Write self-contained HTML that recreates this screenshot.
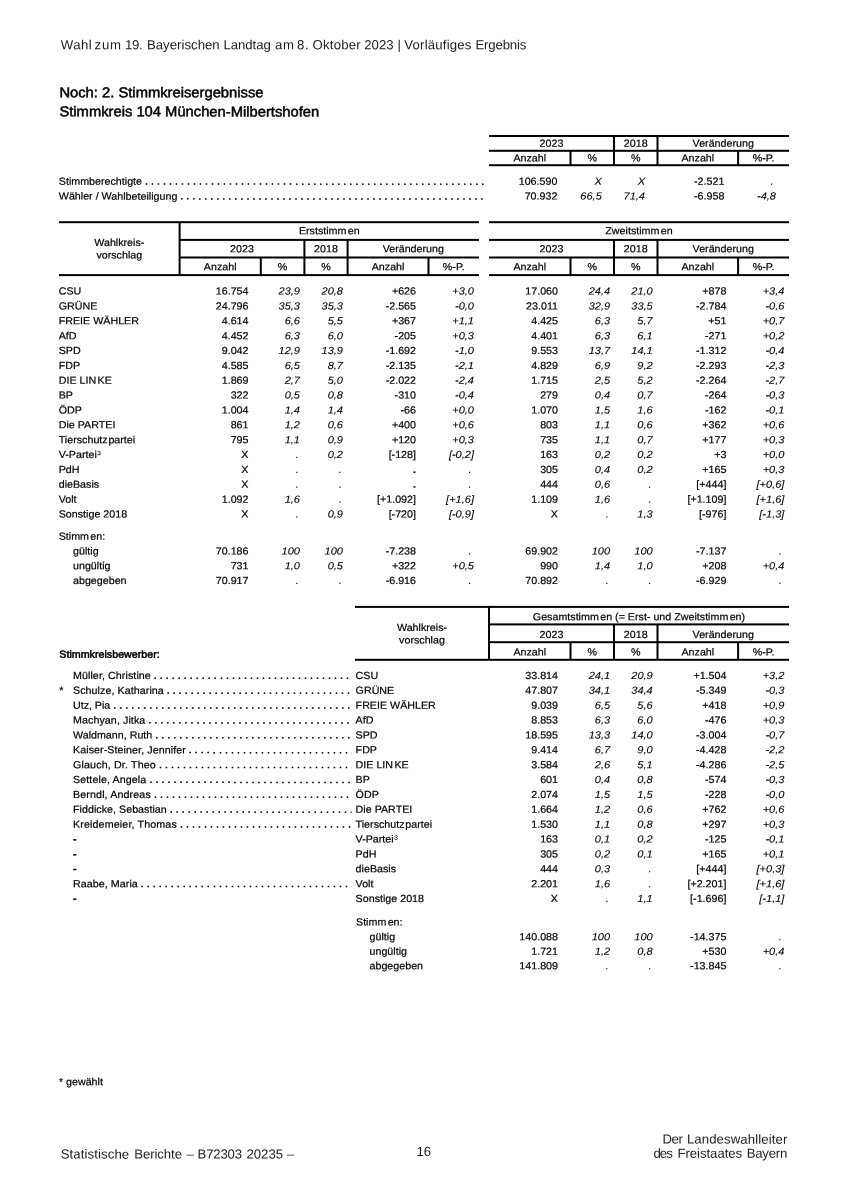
<!DOCTYPE html>
<html lang="de"><head><meta charset="utf-8">
<title>Wahl zum 19. Bayerischen Landtag – Stimmkreis 104 München-Milbertshofen</title>
<style>
html,body{margin:0;padding:0;background:#fff;}
body{width:848px;height:1200px;position:relative;overflow:hidden;}
svg{position:absolute;left:0;top:0;font-family:"Liberation Sans",sans-serif;font-size:10.3px;
 text-rendering:geometricPrecision;fill:#000;}
text{stroke:#000;stroke-width:0.2px;}
.i{font-style:italic;stroke-width:0.1px;}
.b{font-weight:bold;}
.u{fill:#1c1c1c;stroke:none;}
.d{stroke-width:0.5px;letter-spacing:0.028px;}
.h{stroke:#000;stroke-width:0.5px;}
.hb{stroke:#000;stroke-width:0.5px;}
</style></head>
<body>
<svg width="848" height="1200" viewBox="0 0 848 1200">
<defs><clipPath id="c485"><rect x="0" y="0" width="485.00" height="1200"/></clipPath><clipPath id="c352"><rect x="0" y="0" width="351.50" height="1200"/></clipPath></defs>
<g>
<rect x="489.00" y="135.00" width="300.00" height="2.0"/>
<rect x="489.00" y="149.80" width="300.00" height="2.0"/>
<rect x="489.00" y="164.20" width="300.00" height="2.0"/>
<rect x="613.00" y="136.00" width="2.0" height="14.80"/>
<rect x="656.50" y="136.00" width="2.0" height="14.80"/>
<rect x="569.50" y="150.80" width="2.0" height="14.40"/>
<rect x="613.00" y="150.80" width="2.0" height="14.40"/>
<rect x="656.50" y="150.80" width="2.0" height="14.40"/>
<rect x="737.10" y="150.80" width="2.0" height="14.40"/>
<rect x="59.00" y="221.20" width="420.00" height="2.0"/>
<rect x="59.00" y="274.10" width="120.60" height="2.0"/>
<rect x="178.60" y="222.20" width="2.0" height="52.90"/>
<rect x="489.00" y="221.20" width="300.00" height="2.0"/>
<rect x="179.60" y="256.50" width="299.40" height="2.0"/>
<rect x="179.60" y="274.10" width="299.40" height="2.0"/>
<rect x="303.40" y="239.90" width="2.0" height="17.60"/>
<rect x="346.60" y="239.90" width="2.0" height="17.60"/>
<rect x="259.80" y="257.50" width="2.0" height="17.60"/>
<rect x="303.40" y="257.50" width="2.0" height="17.60"/>
<rect x="346.60" y="257.50" width="2.0" height="17.60"/>
<rect x="427.50" y="257.50" width="2.0" height="17.60"/>
<rect x="179.60" y="238.90" width="299.40" height="2.0"/>
<rect x="489.00" y="256.50" width="300.00" height="2.0"/>
<rect x="489.00" y="274.10" width="300.00" height="2.0"/>
<rect x="613.00" y="239.90" width="2.0" height="17.60"/>
<rect x="656.50" y="239.90" width="2.0" height="17.60"/>
<rect x="569.50" y="257.50" width="2.0" height="17.60"/>
<rect x="613.00" y="257.50" width="2.0" height="17.60"/>
<rect x="656.50" y="257.50" width="2.0" height="17.60"/>
<rect x="737.10" y="257.50" width="2.0" height="17.60"/>
<rect x="489.00" y="238.90" width="300.00" height="2.0"/>
<rect x="355.00" y="605.90" width="434.00" height="2.0"/>
<rect x="355.00" y="658.80" width="134.00" height="2.0"/>
<rect x="488.00" y="606.90" width="2.0" height="52.90"/>
<rect x="489.00" y="623.40" width="300.00" height="2.0"/>
<rect x="489.00" y="641.20" width="300.00" height="2.0"/>
<rect x="489.00" y="658.80" width="300.00" height="2.0"/>
<rect x="613.00" y="624.40" width="2.0" height="17.80"/>
<rect x="656.50" y="624.40" width="2.0" height="17.80"/>
<rect x="569.50" y="642.20" width="2.0" height="17.60"/>
<rect x="613.00" y="642.20" width="2.0" height="17.60"/>
<rect x="656.50" y="642.20" width="2.0" height="17.60"/>
<rect x="737.10" y="642.20" width="2.0" height="17.60"/>
</g>
<g>
<text transform="translate(60.70 49.30) rotate(0.03) scale(1 1)" class="u" font-size="13.2" textLength="31.0" lengthAdjust="spacing">Wahl</text>
<text transform="translate(94.60 49.30) rotate(0.03) scale(1 1)" class="u" font-size="13.2" textLength="26.4" lengthAdjust="spacing">zum</text>
<text transform="translate(125.10 49.30) rotate(0.03) scale(1 1)" class="u" font-size="13.2" textLength="17.5" lengthAdjust="spacing">19.</text>
<text transform="translate(146.90 49.30) rotate(0.03) scale(1 1)" class="u" font-size="13.2" textLength="72.8" lengthAdjust="spacing">Bayerischen</text>
<text transform="translate(223.40 49.30) rotate(0.03) scale(1 1)" class="u" font-size="13.2" textLength="47.5" lengthAdjust="spacing">Landtag</text>
<text transform="translate(275.00 49.30) rotate(0.03) scale(1 1)" class="u" font-size="13.2" textLength="19.0" lengthAdjust="spacing">am</text>
<text transform="translate(297.10 49.30) rotate(0.03) scale(1 1)" class="u" font-size="13.2" textLength="11.5" lengthAdjust="spacing">8.</text>
<text transform="translate(312.60 49.30) rotate(0.03) scale(1 1)" class="u" font-size="13.2" textLength="48.0" lengthAdjust="spacing">Oktober</text>
<text transform="translate(364.30 49.30) rotate(0.03) scale(1 1)" class="u" font-size="13.2" textLength="29.3" lengthAdjust="spacing">2023</text>
<text transform="translate(399.20 49.30) rotate(0.03) scale(1 1)" text-anchor="middle" class="u" font-size="13.2">|</text>
<text transform="translate(404.30 49.30) rotate(0.03) scale(1 1)" class="u" font-size="13.2" textLength="67.1" lengthAdjust="spacing">Vorläufiges</text>
<text transform="translate(475.50 49.30) rotate(0.03) scale(1 1)" class="u" font-size="13.2" textLength="50.9" lengthAdjust="spacing">Ergebnis</text>
<text transform="translate(59.40 97.20) rotate(0.03) scale(1.036 1)" class="h" font-size="14.245">Noch: 2. Stimmkreisergebnisse</text>
<text transform="translate(59.40 116.30) rotate(0.03) scale(1.036 1)" class="h" font-size="14.245">Stimmkreis 104 München-Milbertshofen</text>
<text transform="translate(551.50 146.80) rotate(0.03) scale(1.039 1)" text-anchor="middle">2023</text>
<text transform="translate(635.75 146.80) rotate(0.03) scale(1.039 1)" text-anchor="middle">2018</text>
<text transform="translate(723.25 146.80) rotate(0.03) scale(1.039 1)" text-anchor="middle">Veränderung</text>
<text transform="translate(529.75 161.60) rotate(0.03) scale(1.039 1)" text-anchor="middle">Anzahl</text>
<text transform="translate(592.25 161.60) rotate(0.03) scale(1.039 1)" text-anchor="middle">%</text>
<text transform="translate(635.75 161.60) rotate(0.03) scale(1.039 1)" text-anchor="middle">%</text>
<text transform="translate(697.80 161.60) rotate(0.03) scale(1.039 1)" text-anchor="middle">Anzahl</text>
<text transform="translate(763.55 161.60) rotate(0.03) scale(1.039 1)" text-anchor="middle">%-P.</text>
<g clip-path="url(#c485)"><text transform="translate(58.80 184.80) rotate(0.03) scale(1.039 1)" xml:space="preserve">Stimmberechtigte<tspan class="d" dy="-0.3"> . . . . . . . . . . . . . . . . . . . . . . . . . . . . . . . . . . . . . . . . . . . . . . . . . . . . . . . . . . . . . . . . . . . . . . . . . . . . . . . .</tspan></text></g>
<g clip-path="url(#c485)"><text transform="translate(58.80 199.60) rotate(0.03) scale(1.039 1)" xml:space="preserve">Wähler / Wahlbeteiligung<tspan class="d" dy="-0.3"> . . . . . . . . . . . . . . . . . . . . . . . . . . . . . . . . . . . . . . . . . . . . . . . . . . . . . . . . . . . . . . . . . . . . . . . . . . . . . . . .</tspan></text></g>
<text transform="translate(557.40 184.80) rotate(0.03) scale(1.039 1)" text-anchor="end">106.590</text>
<text transform="translate(601.80 184.80) rotate(0.03) scale(1.07 1)" text-anchor="end" class="i">X</text>
<text transform="translate(645.00 184.80) rotate(0.03) scale(1.07 1)" text-anchor="end" class="i">X</text>
<text transform="translate(724.40 184.80) rotate(0.03) scale(1.039 1)" text-anchor="end">-2.521</text>
<text transform="translate(773.50 184.80) rotate(0.03) scale(1.07 1)" text-anchor="end" class="i">.</text>
<text transform="translate(557.40 199.60) rotate(0.03) scale(1.039 1)" text-anchor="end">70.932</text>
<text transform="translate(601.80 199.60) rotate(0.03) scale(1.07 1)" text-anchor="end" class="i">66,5</text>
<text transform="translate(645.00 199.60) rotate(0.03) scale(1.07 1)" text-anchor="end" class="i">71,4</text>
<text transform="translate(724.40 199.60) rotate(0.03) scale(1.039 1)" text-anchor="end">-6.958</text>
<text transform="translate(776.00 199.60) rotate(0.03) scale(1.07 1)" text-anchor="end" class="i">-4,8</text>
<text transform="translate(242.00 252.30) rotate(0.03) scale(1.039 1)" text-anchor="middle">2023</text>
<text transform="translate(326.00 252.30) rotate(0.03) scale(1.039 1)" text-anchor="middle">2018</text>
<text transform="translate(413.30 252.30) rotate(0.03) scale(1.039 1)" text-anchor="middle">Veränderung</text>
<text transform="translate(220.20 270.30) rotate(0.03) scale(1.039 1)" text-anchor="middle">Anzahl</text>
<text transform="translate(282.60 270.30) rotate(0.03) scale(1.039 1)" text-anchor="middle">%</text>
<text transform="translate(326.00 270.30) rotate(0.03) scale(1.039 1)" text-anchor="middle">%</text>
<text transform="translate(388.05 270.30) rotate(0.03) scale(1.039 1)" text-anchor="middle">Anzahl</text>
<text transform="translate(453.75 270.30) rotate(0.03) scale(1.039 1)" text-anchor="middle">%-P.</text>
<text transform="translate(551.50 252.30) rotate(0.03) scale(1.039 1)" text-anchor="middle">2023</text>
<text transform="translate(635.75 252.30) rotate(0.03) scale(1.039 1)" text-anchor="middle">2018</text>
<text transform="translate(723.25 252.30) rotate(0.03) scale(1.039 1)" text-anchor="middle">Veränderung</text>
<text transform="translate(529.75 270.30) rotate(0.03) scale(1.039 1)" text-anchor="middle">Anzahl</text>
<text transform="translate(592.25 270.30) rotate(0.03) scale(1.039 1)" text-anchor="middle">%</text>
<text transform="translate(635.75 270.30) rotate(0.03) scale(1.039 1)" text-anchor="middle">%</text>
<text transform="translate(697.80 270.30) rotate(0.03) scale(1.039 1)" text-anchor="middle">Anzahl</text>
<text transform="translate(763.55 270.30) rotate(0.03) scale(1.039 1)" text-anchor="middle">%-P.</text>
<text transform="translate(329.30 234.30) rotate(0.03) scale(1.039 1)" text-anchor="middle">Erststimm<tspan dx="1.3">en</tspan></text>
<text transform="translate(639.00 234.30) rotate(0.03) scale(1.039 1)" text-anchor="middle">Zweitstimm<tspan dx="1.3">en</tspan></text>
<text transform="translate(119.30 246.00) rotate(0.03) scale(1.039 1)" text-anchor="middle">Wahlkreis-</text>
<text transform="translate(119.30 258.60) rotate(0.03) scale(1.039 1)" text-anchor="middle">vorschlag</text>
<text transform="translate(58.70 294.60) rotate(0.03) scale(1.039 1)">CSU</text>
<text transform="translate(248.50 294.60) rotate(0.03) scale(1.039 1)" text-anchor="end">16.754</text>
<text transform="translate(300.00 294.60) rotate(0.03) scale(1.07 1)" text-anchor="end" class="i">23,9</text>
<text transform="translate(343.00 294.60) rotate(0.03) scale(1.07 1)" text-anchor="end" class="i">20,8</text>
<text transform="translate(416.00 294.60) rotate(0.03) scale(1.039 1)" text-anchor="end">+626</text>
<text transform="translate(474.00 294.60) rotate(0.03) scale(1.07 1)" text-anchor="end" class="i">+3,0</text>
<text transform="translate(558.00 294.60) rotate(0.03) scale(1.039 1)" text-anchor="end">17.060</text>
<text transform="translate(610.10 294.60) rotate(0.03) scale(1.07 1)" text-anchor="end" class="i">24,4</text>
<text transform="translate(652.70 294.60) rotate(0.03) scale(1.07 1)" text-anchor="end" class="i">21,0</text>
<text transform="translate(726.40 294.60) rotate(0.03) scale(1.039 1)" text-anchor="end">+878</text>
<text transform="translate(784.40 294.60) rotate(0.03) scale(1.07 1)" text-anchor="end" class="i">+3,4</text>
<text transform="translate(58.70 309.46) rotate(0.03) scale(1.039 1)">GRÜNE</text>
<text transform="translate(248.50 309.46) rotate(0.03) scale(1.039 1)" text-anchor="end">24.796</text>
<text transform="translate(300.00 309.46) rotate(0.03) scale(1.07 1)" text-anchor="end" class="i">35,3</text>
<text transform="translate(343.00 309.46) rotate(0.03) scale(1.07 1)" text-anchor="end" class="i">35,3</text>
<text transform="translate(416.00 309.46) rotate(0.03) scale(1.039 1)" text-anchor="end">-2.565</text>
<text transform="translate(474.00 309.46) rotate(0.03) scale(1.07 1)" text-anchor="end" class="i">-0,0</text>
<text transform="translate(558.00 309.46) rotate(0.03) scale(1.039 1)" text-anchor="end">23.011</text>
<text transform="translate(610.10 309.46) rotate(0.03) scale(1.07 1)" text-anchor="end" class="i">32,9</text>
<text transform="translate(652.70 309.46) rotate(0.03) scale(1.07 1)" text-anchor="end" class="i">33,5</text>
<text transform="translate(726.40 309.46) rotate(0.03) scale(1.039 1)" text-anchor="end">-2.784</text>
<text transform="translate(784.40 309.46) rotate(0.03) scale(1.07 1)" text-anchor="end" class="i">-0,6</text>
<text transform="translate(58.70 324.32) rotate(0.03) scale(1.039 1)">FREIE WÄHLER</text>
<text transform="translate(248.50 324.32) rotate(0.03) scale(1.039 1)" text-anchor="end">4.614</text>
<text transform="translate(300.00 324.32) rotate(0.03) scale(1.07 1)" text-anchor="end" class="i">6,6</text>
<text transform="translate(343.00 324.32) rotate(0.03) scale(1.07 1)" text-anchor="end" class="i">5,5</text>
<text transform="translate(416.00 324.32) rotate(0.03) scale(1.039 1)" text-anchor="end">+367</text>
<text transform="translate(474.00 324.32) rotate(0.03) scale(1.07 1)" text-anchor="end" class="i">+1,1</text>
<text transform="translate(558.00 324.32) rotate(0.03) scale(1.039 1)" text-anchor="end">4.425</text>
<text transform="translate(610.10 324.32) rotate(0.03) scale(1.07 1)" text-anchor="end" class="i">6,3</text>
<text transform="translate(652.70 324.32) rotate(0.03) scale(1.07 1)" text-anchor="end" class="i">5,7</text>
<text transform="translate(726.40 324.32) rotate(0.03) scale(1.039 1)" text-anchor="end">+51</text>
<text transform="translate(784.40 324.32) rotate(0.03) scale(1.07 1)" text-anchor="end" class="i">+0,7</text>
<text transform="translate(58.70 339.18) rotate(0.03) scale(1.039 1)">AfD</text>
<text transform="translate(248.50 339.18) rotate(0.03) scale(1.039 1)" text-anchor="end">4.452</text>
<text transform="translate(300.00 339.18) rotate(0.03) scale(1.07 1)" text-anchor="end" class="i">6,3</text>
<text transform="translate(343.00 339.18) rotate(0.03) scale(1.07 1)" text-anchor="end" class="i">6,0</text>
<text transform="translate(416.00 339.18) rotate(0.03) scale(1.039 1)" text-anchor="end">-205</text>
<text transform="translate(474.00 339.18) rotate(0.03) scale(1.07 1)" text-anchor="end" class="i">+0,3</text>
<text transform="translate(558.00 339.18) rotate(0.03) scale(1.039 1)" text-anchor="end">4.401</text>
<text transform="translate(610.10 339.18) rotate(0.03) scale(1.07 1)" text-anchor="end" class="i">6,3</text>
<text transform="translate(652.70 339.18) rotate(0.03) scale(1.07 1)" text-anchor="end" class="i">6,1</text>
<text transform="translate(726.40 339.18) rotate(0.03) scale(1.039 1)" text-anchor="end">-271</text>
<text transform="translate(784.40 339.18) rotate(0.03) scale(1.07 1)" text-anchor="end" class="i">+0,2</text>
<text transform="translate(58.70 354.04) rotate(0.03) scale(1.039 1)">SPD</text>
<text transform="translate(248.50 354.04) rotate(0.03) scale(1.039 1)" text-anchor="end">9.042</text>
<text transform="translate(300.00 354.04) rotate(0.03) scale(1.07 1)" text-anchor="end" class="i">12,9</text>
<text transform="translate(343.00 354.04) rotate(0.03) scale(1.07 1)" text-anchor="end" class="i">13,9</text>
<text transform="translate(416.00 354.04) rotate(0.03) scale(1.039 1)" text-anchor="end">-1.692</text>
<text transform="translate(474.00 354.04) rotate(0.03) scale(1.07 1)" text-anchor="end" class="i">-1,0</text>
<text transform="translate(558.00 354.04) rotate(0.03) scale(1.039 1)" text-anchor="end">9.553</text>
<text transform="translate(610.10 354.04) rotate(0.03) scale(1.07 1)" text-anchor="end" class="i">13,7</text>
<text transform="translate(652.70 354.04) rotate(0.03) scale(1.07 1)" text-anchor="end" class="i">14,1</text>
<text transform="translate(726.40 354.04) rotate(0.03) scale(1.039 1)" text-anchor="end">-1.312</text>
<text transform="translate(784.40 354.04) rotate(0.03) scale(1.07 1)" text-anchor="end" class="i">-0,4</text>
<text transform="translate(58.70 368.90) rotate(0.03) scale(1.039 1)">FDP</text>
<text transform="translate(248.50 368.90) rotate(0.03) scale(1.039 1)" text-anchor="end">4.585</text>
<text transform="translate(300.00 368.90) rotate(0.03) scale(1.07 1)" text-anchor="end" class="i">6,5</text>
<text transform="translate(343.00 368.90) rotate(0.03) scale(1.07 1)" text-anchor="end" class="i">8,7</text>
<text transform="translate(416.00 368.90) rotate(0.03) scale(1.039 1)" text-anchor="end">-2.135</text>
<text transform="translate(474.00 368.90) rotate(0.03) scale(1.07 1)" text-anchor="end" class="i">-2,1</text>
<text transform="translate(558.00 368.90) rotate(0.03) scale(1.039 1)" text-anchor="end">4.829</text>
<text transform="translate(610.10 368.90) rotate(0.03) scale(1.07 1)" text-anchor="end" class="i">6,9</text>
<text transform="translate(652.70 368.90) rotate(0.03) scale(1.07 1)" text-anchor="end" class="i">9,2</text>
<text transform="translate(726.40 368.90) rotate(0.03) scale(1.039 1)" text-anchor="end">-2.293</text>
<text transform="translate(784.40 368.90) rotate(0.03) scale(1.07 1)" text-anchor="end" class="i">-2,3</text>
<text transform="translate(58.70 383.76) rotate(0.03) scale(1.039 1)">DIE LIN<tspan dx="1.3">KE</tspan></text>
<text transform="translate(248.50 383.76) rotate(0.03) scale(1.039 1)" text-anchor="end">1.869</text>
<text transform="translate(300.00 383.76) rotate(0.03) scale(1.07 1)" text-anchor="end" class="i">2,7</text>
<text transform="translate(343.00 383.76) rotate(0.03) scale(1.07 1)" text-anchor="end" class="i">5,0</text>
<text transform="translate(416.00 383.76) rotate(0.03) scale(1.039 1)" text-anchor="end">-2.022</text>
<text transform="translate(474.00 383.76) rotate(0.03) scale(1.07 1)" text-anchor="end" class="i">-2,4</text>
<text transform="translate(558.00 383.76) rotate(0.03) scale(1.039 1)" text-anchor="end">1.715</text>
<text transform="translate(610.10 383.76) rotate(0.03) scale(1.07 1)" text-anchor="end" class="i">2,5</text>
<text transform="translate(652.70 383.76) rotate(0.03) scale(1.07 1)" text-anchor="end" class="i">5,2</text>
<text transform="translate(726.40 383.76) rotate(0.03) scale(1.039 1)" text-anchor="end">-2.264</text>
<text transform="translate(784.40 383.76) rotate(0.03) scale(1.07 1)" text-anchor="end" class="i">-2,7</text>
<text transform="translate(58.70 398.62) rotate(0.03) scale(1.039 1)">BP</text>
<text transform="translate(248.50 398.62) rotate(0.03) scale(1.039 1)" text-anchor="end">322</text>
<text transform="translate(300.00 398.62) rotate(0.03) scale(1.07 1)" text-anchor="end" class="i">0,5</text>
<text transform="translate(343.00 398.62) rotate(0.03) scale(1.07 1)" text-anchor="end" class="i">0,8</text>
<text transform="translate(416.00 398.62) rotate(0.03) scale(1.039 1)" text-anchor="end">-310</text>
<text transform="translate(474.00 398.62) rotate(0.03) scale(1.07 1)" text-anchor="end" class="i">-0,4</text>
<text transform="translate(558.00 398.62) rotate(0.03) scale(1.039 1)" text-anchor="end">279</text>
<text transform="translate(610.10 398.62) rotate(0.03) scale(1.07 1)" text-anchor="end" class="i">0,4</text>
<text transform="translate(652.70 398.62) rotate(0.03) scale(1.07 1)" text-anchor="end" class="i">0,7</text>
<text transform="translate(726.40 398.62) rotate(0.03) scale(1.039 1)" text-anchor="end">-264</text>
<text transform="translate(784.40 398.62) rotate(0.03) scale(1.07 1)" text-anchor="end" class="i">-0,3</text>
<text transform="translate(58.70 413.48) rotate(0.03) scale(1.039 1)">ÖDP</text>
<text transform="translate(248.50 413.48) rotate(0.03) scale(1.039 1)" text-anchor="end">1.004</text>
<text transform="translate(300.00 413.48) rotate(0.03) scale(1.07 1)" text-anchor="end" class="i">1,4</text>
<text transform="translate(343.00 413.48) rotate(0.03) scale(1.07 1)" text-anchor="end" class="i">1,4</text>
<text transform="translate(416.00 413.48) rotate(0.03) scale(1.039 1)" text-anchor="end">-66</text>
<text transform="translate(474.00 413.48) rotate(0.03) scale(1.07 1)" text-anchor="end" class="i">+0,0</text>
<text transform="translate(558.00 413.48) rotate(0.03) scale(1.039 1)" text-anchor="end">1.070</text>
<text transform="translate(610.10 413.48) rotate(0.03) scale(1.07 1)" text-anchor="end" class="i">1,5</text>
<text transform="translate(652.70 413.48) rotate(0.03) scale(1.07 1)" text-anchor="end" class="i">1,6</text>
<text transform="translate(726.40 413.48) rotate(0.03) scale(1.039 1)" text-anchor="end">-162</text>
<text transform="translate(784.40 413.48) rotate(0.03) scale(1.07 1)" text-anchor="end" class="i">-0,1</text>
<text transform="translate(58.70 428.34) rotate(0.03) scale(1.039 1)">Die PARTEI</text>
<text transform="translate(248.50 428.34) rotate(0.03) scale(1.039 1)" text-anchor="end">861</text>
<text transform="translate(300.00 428.34) rotate(0.03) scale(1.07 1)" text-anchor="end" class="i">1,2</text>
<text transform="translate(343.00 428.34) rotate(0.03) scale(1.07 1)" text-anchor="end" class="i">0,6</text>
<text transform="translate(416.00 428.34) rotate(0.03) scale(1.039 1)" text-anchor="end">+400</text>
<text transform="translate(474.00 428.34) rotate(0.03) scale(1.07 1)" text-anchor="end" class="i">+0,6</text>
<text transform="translate(558.00 428.34) rotate(0.03) scale(1.039 1)" text-anchor="end">803</text>
<text transform="translate(610.10 428.34) rotate(0.03) scale(1.07 1)" text-anchor="end" class="i">1,1</text>
<text transform="translate(652.70 428.34) rotate(0.03) scale(1.07 1)" text-anchor="end" class="i">0,6</text>
<text transform="translate(726.40 428.34) rotate(0.03) scale(1.039 1)" text-anchor="end">+362</text>
<text transform="translate(784.40 428.34) rotate(0.03) scale(1.07 1)" text-anchor="end" class="i">+0,6</text>
<text transform="translate(58.70 443.20) rotate(0.03) scale(1.039 1)">Tierschutz<tspan dx="0.7">partei</tspan></text>
<text transform="translate(248.50 443.20) rotate(0.03) scale(1.039 1)" text-anchor="end">795</text>
<text transform="translate(300.00 443.20) rotate(0.03) scale(1.07 1)" text-anchor="end" class="i">1,1</text>
<text transform="translate(343.00 443.20) rotate(0.03) scale(1.07 1)" text-anchor="end" class="i">0,9</text>
<text transform="translate(416.00 443.20) rotate(0.03) scale(1.039 1)" text-anchor="end">+120</text>
<text transform="translate(474.00 443.20) rotate(0.03) scale(1.07 1)" text-anchor="end" class="i">+0,3</text>
<text transform="translate(558.00 443.20) rotate(0.03) scale(1.039 1)" text-anchor="end">735</text>
<text transform="translate(610.10 443.20) rotate(0.03) scale(1.07 1)" text-anchor="end" class="i">1,1</text>
<text transform="translate(652.70 443.20) rotate(0.03) scale(1.07 1)" text-anchor="end" class="i">0,7</text>
<text transform="translate(726.40 443.20) rotate(0.03) scale(1.039 1)" text-anchor="end">+177</text>
<text transform="translate(784.40 443.20) rotate(0.03) scale(1.07 1)" text-anchor="end" class="i">+0,3</text>
<text transform="translate(58.70 458.06) rotate(0.03) scale(1.039 1)">V-Partei<tspan dy="-2.9" dx="0.5" font-size="6.3" style="stroke-width:0.05px">3</tspan></text>
<text transform="translate(248.50 458.06) rotate(0.03) scale(1.039 1)" text-anchor="end">X</text>
<text transform="translate(298.80 458.06) rotate(0.03) scale(1.07 1)" text-anchor="end" class="i">.</text>
<text transform="translate(343.00 458.06) rotate(0.03) scale(1.07 1)" text-anchor="end" class="i">0,2</text>
<text transform="translate(416.00 458.06) rotate(0.03) scale(1.039 1)" text-anchor="end">[-128]</text>
<text transform="translate(474.00 458.06) rotate(0.03) scale(1.07 1)" text-anchor="end" class="i">[-0,2]</text>
<text transform="translate(558.00 458.06) rotate(0.03) scale(1.039 1)" text-anchor="end">163</text>
<text transform="translate(610.10 458.06) rotate(0.03) scale(1.07 1)" text-anchor="end" class="i">0,2</text>
<text transform="translate(652.70 458.06) rotate(0.03) scale(1.07 1)" text-anchor="end" class="i">0,2</text>
<text transform="translate(726.40 458.06) rotate(0.03) scale(1.039 1)" text-anchor="end">+3</text>
<text transform="translate(784.40 458.06) rotate(0.03) scale(1.07 1)" text-anchor="end" class="i">+0,0</text>
<text transform="translate(58.70 472.92) rotate(0.03) scale(1.039 1)">PdH</text>
<text transform="translate(248.50 472.92) rotate(0.03) scale(1.039 1)" text-anchor="end">X</text>
<text transform="translate(298.80 472.92) rotate(0.03) scale(1.07 1)" text-anchor="end" class="i">.</text>
<text transform="translate(341.80 472.92) rotate(0.03) scale(1.07 1)" text-anchor="end" class="i">.</text>
<text transform="translate(416.00 472.92) rotate(0.03) scale(1.039 1)" text-anchor="end" class="b">.</text>
<text transform="translate(471.50 472.92) rotate(0.03) scale(1.07 1)" text-anchor="end" class="i">.</text>
<text transform="translate(558.00 472.92) rotate(0.03) scale(1.039 1)" text-anchor="end">305</text>
<text transform="translate(610.10 472.92) rotate(0.03) scale(1.07 1)" text-anchor="end" class="i">0,4</text>
<text transform="translate(652.70 472.92) rotate(0.03) scale(1.07 1)" text-anchor="end" class="i">0,2</text>
<text transform="translate(726.40 472.92) rotate(0.03) scale(1.039 1)" text-anchor="end">+165</text>
<text transform="translate(784.40 472.92) rotate(0.03) scale(1.07 1)" text-anchor="end" class="i">+0,3</text>
<text transform="translate(58.70 487.78) rotate(0.03) scale(1.039 1)">dieBasis</text>
<text transform="translate(248.50 487.78) rotate(0.03) scale(1.039 1)" text-anchor="end">X</text>
<text transform="translate(298.80 487.78) rotate(0.03) scale(1.07 1)" text-anchor="end" class="i">.</text>
<text transform="translate(341.80 487.78) rotate(0.03) scale(1.07 1)" text-anchor="end" class="i">.</text>
<text transform="translate(416.00 487.78) rotate(0.03) scale(1.039 1)" text-anchor="end" class="b">.</text>
<text transform="translate(471.50 487.78) rotate(0.03) scale(1.07 1)" text-anchor="end" class="i">.</text>
<text transform="translate(558.00 487.78) rotate(0.03) scale(1.039 1)" text-anchor="end">444</text>
<text transform="translate(610.10 487.78) rotate(0.03) scale(1.07 1)" text-anchor="end" class="i">0,6</text>
<text transform="translate(651.50 487.78) rotate(0.03) scale(1.07 1)" text-anchor="end" class="i">.</text>
<text transform="translate(726.40 487.78) rotate(0.03) scale(1.039 1)" text-anchor="end">[+444]</text>
<text transform="translate(784.40 487.78) rotate(0.03) scale(1.07 1)" text-anchor="end" class="i">[+0,6]</text>
<text transform="translate(58.70 502.64) rotate(0.03) scale(1.039 1)">Volt</text>
<text transform="translate(248.50 502.64) rotate(0.03) scale(1.039 1)" text-anchor="end">1.092</text>
<text transform="translate(300.00 502.64) rotate(0.03) scale(1.07 1)" text-anchor="end" class="i">1,6</text>
<text transform="translate(341.80 502.64) rotate(0.03) scale(1.07 1)" text-anchor="end" class="i">.</text>
<text transform="translate(416.00 502.64) rotate(0.03) scale(1.039 1)" text-anchor="end">[+1.092]</text>
<text transform="translate(474.00 502.64) rotate(0.03) scale(1.07 1)" text-anchor="end" class="i">[+1,6]</text>
<text transform="translate(558.00 502.64) rotate(0.03) scale(1.039 1)" text-anchor="end">1.109</text>
<text transform="translate(610.10 502.64) rotate(0.03) scale(1.07 1)" text-anchor="end" class="i">1,6</text>
<text transform="translate(651.50 502.64) rotate(0.03) scale(1.07 1)" text-anchor="end" class="i">.</text>
<text transform="translate(726.40 502.64) rotate(0.03) scale(1.039 1)" text-anchor="end">[+1.109]</text>
<text transform="translate(784.40 502.64) rotate(0.03) scale(1.07 1)" text-anchor="end" class="i">[+1,6]</text>
<text transform="translate(58.70 517.50) rotate(0.03) scale(1.039 1)">Sonstige 2018</text>
<text transform="translate(248.50 517.50) rotate(0.03) scale(1.039 1)" text-anchor="end">X</text>
<text transform="translate(298.80 517.50) rotate(0.03) scale(1.07 1)" text-anchor="end" class="i">.</text>
<text transform="translate(343.00 517.50) rotate(0.03) scale(1.07 1)" text-anchor="end" class="i">0,9</text>
<text transform="translate(416.00 517.50) rotate(0.03) scale(1.039 1)" text-anchor="end">[-720]</text>
<text transform="translate(474.00 517.50) rotate(0.03) scale(1.07 1)" text-anchor="end" class="i">[-0,9]</text>
<text transform="translate(558.00 517.50) rotate(0.03) scale(1.039 1)" text-anchor="end">X</text>
<text transform="translate(608.90 517.50) rotate(0.03) scale(1.07 1)" text-anchor="end" class="i">.</text>
<text transform="translate(652.70 517.50) rotate(0.03) scale(1.07 1)" text-anchor="end" class="i">1,3</text>
<text transform="translate(726.40 517.50) rotate(0.03) scale(1.039 1)" text-anchor="end">[-976]</text>
<text transform="translate(784.40 517.50) rotate(0.03) scale(1.07 1)" text-anchor="end" class="i">[-1,3]</text>
<text transform="translate(58.70 539.65) rotate(0.03) scale(1.039 1)">Stimm<tspan dx="1.3">en:</tspan></text>
<text transform="translate(73.00 554.55) rotate(0.03) scale(1.039 1)">gültig</text>
<text transform="translate(248.50 554.55) rotate(0.03) scale(1.039 1)" text-anchor="end">70.186</text>
<text transform="translate(300.00 554.55) rotate(0.03) scale(1.07 1)" text-anchor="end" class="i">100</text>
<text transform="translate(343.00 554.55) rotate(0.03) scale(1.07 1)" text-anchor="end" class="i">100</text>
<text transform="translate(416.00 554.55) rotate(0.03) scale(1.039 1)" text-anchor="end">-7.238</text>
<text transform="translate(471.50 554.55) rotate(0.03) scale(1.07 1)" text-anchor="end" class="i">.</text>
<text transform="translate(558.00 554.55) rotate(0.03) scale(1.039 1)" text-anchor="end">69.902</text>
<text transform="translate(610.10 554.55) rotate(0.03) scale(1.07 1)" text-anchor="end" class="i">100</text>
<text transform="translate(652.70 554.55) rotate(0.03) scale(1.07 1)" text-anchor="end" class="i">100</text>
<text transform="translate(726.40 554.55) rotate(0.03) scale(1.039 1)" text-anchor="end">-7.137</text>
<text transform="translate(781.90 554.55) rotate(0.03) scale(1.07 1)" text-anchor="end" class="i">.</text>
<text transform="translate(73.00 569.35) rotate(0.03) scale(1.039 1)">ungültig</text>
<text transform="translate(248.50 569.35) rotate(0.03) scale(1.039 1)" text-anchor="end">731</text>
<text transform="translate(300.00 569.35) rotate(0.03) scale(1.07 1)" text-anchor="end" class="i">1,0</text>
<text transform="translate(343.00 569.35) rotate(0.03) scale(1.07 1)" text-anchor="end" class="i">0,5</text>
<text transform="translate(416.00 569.35) rotate(0.03) scale(1.039 1)" text-anchor="end">+322</text>
<text transform="translate(474.00 569.35) rotate(0.03) scale(1.07 1)" text-anchor="end" class="i">+0,5</text>
<text transform="translate(558.00 569.35) rotate(0.03) scale(1.039 1)" text-anchor="end">990</text>
<text transform="translate(610.10 569.35) rotate(0.03) scale(1.07 1)" text-anchor="end" class="i">1,4</text>
<text transform="translate(652.70 569.35) rotate(0.03) scale(1.07 1)" text-anchor="end" class="i">1,0</text>
<text transform="translate(726.40 569.35) rotate(0.03) scale(1.039 1)" text-anchor="end">+208</text>
<text transform="translate(784.40 569.35) rotate(0.03) scale(1.07 1)" text-anchor="end" class="i">+0,4</text>
<text transform="translate(73.00 583.90) rotate(0.03) scale(1.039 1)">abgegeben</text>
<text transform="translate(248.50 583.90) rotate(0.03) scale(1.039 1)" text-anchor="end">70.917</text>
<text transform="translate(298.80 583.90) rotate(0.03) scale(1.07 1)" text-anchor="end" class="i">.</text>
<text transform="translate(341.80 583.90) rotate(0.03) scale(1.07 1)" text-anchor="end" class="i">.</text>
<text transform="translate(416.00 583.90) rotate(0.03) scale(1.039 1)" text-anchor="end">-6.916</text>
<text transform="translate(471.50 583.90) rotate(0.03) scale(1.07 1)" text-anchor="end" class="i">.</text>
<text transform="translate(558.00 583.90) rotate(0.03) scale(1.039 1)" text-anchor="end">70.892</text>
<text transform="translate(608.90 583.90) rotate(0.03) scale(1.07 1)" text-anchor="end" class="i">.</text>
<text transform="translate(651.50 583.90) rotate(0.03) scale(1.07 1)" text-anchor="end" class="i">.</text>
<text transform="translate(726.40 583.90) rotate(0.03) scale(1.039 1)" text-anchor="end">-6.929</text>
<text transform="translate(781.90 583.90) rotate(0.03) scale(1.07 1)" text-anchor="end" class="i">.</text>
<text transform="translate(551.50 637.90) rotate(0.03) scale(1.039 1)" text-anchor="middle">2023</text>
<text transform="translate(635.75 637.90) rotate(0.03) scale(1.039 1)" text-anchor="middle">2018</text>
<text transform="translate(723.25 637.90) rotate(0.03) scale(1.039 1)" text-anchor="middle">Veränderung</text>
<text transform="translate(529.75 655.40) rotate(0.03) scale(1.039 1)" text-anchor="middle">Anzahl</text>
<text transform="translate(592.25 655.40) rotate(0.03) scale(1.039 1)" text-anchor="middle">%</text>
<text transform="translate(635.75 655.40) rotate(0.03) scale(1.039 1)" text-anchor="middle">%</text>
<text transform="translate(697.80 655.40) rotate(0.03) scale(1.039 1)" text-anchor="middle">Anzahl</text>
<text transform="translate(763.55 655.40) rotate(0.03) scale(1.039 1)" text-anchor="middle">%-P.</text>
<text transform="translate(639.00 620.30) rotate(0.03) scale(1.039 1)" text-anchor="middle">Gesamtstimm<tspan dx="1.3">en</tspan> (= Erst- und Zweitstimm<tspan dx="1.3">en</tspan>)</text>
<text transform="translate(422.00 631.00) rotate(0.03) scale(1.039 1)" text-anchor="middle">Wahlkreis-</text>
<text transform="translate(422.00 643.60) rotate(0.03) scale(1.039 1)" text-anchor="middle">vorschlag</text>
<text transform="translate(59.30 657.70) rotate(0.03) scale(1.039 1)" class="hb">Stimmkreisbewerber:</text>
<g clip-path="url(#c352)"><text transform="translate(73.00 679.00) rotate(0.03) scale(1.039 1)" xml:space="preserve"><tspan textLength="74.88" lengthAdjust="spacing">Müller, Christine</tspan><tspan class="d" dy="-0.3"> . . . . . . . . . . . . . . . . . . . . . . . . . . . . . . . . . . . . . . . . . . . . . . . . . . . . . . . . . . . . . . . . . . . . . . . . . . . . . . . .</tspan></text></g>
<text transform="translate(355.60 679.00) rotate(0.03) scale(1.039 1)">CSU</text>
<text transform="translate(558.00 679.00) rotate(0.03) scale(1.039 1)" text-anchor="end">33.814</text>
<text transform="translate(610.10 679.00) rotate(0.03) scale(1.07 1)" text-anchor="end" class="i">24,1</text>
<text transform="translate(652.70 679.00) rotate(0.03) scale(1.07 1)" text-anchor="end" class="i">20,9</text>
<text transform="translate(726.40 679.00) rotate(0.03) scale(1.039 1)" text-anchor="end">+1.504</text>
<text transform="translate(784.40 679.00) rotate(0.03) scale(1.07 1)" text-anchor="end" class="i">+3,2</text>
<text transform="translate(59.20 693.87) rotate(0.03) scale(1.039 1)">*</text>
<g clip-path="url(#c352)"><text transform="translate(73.00 693.87) rotate(0.03) scale(1.039 1)" xml:space="preserve"><tspan textLength="87.39" lengthAdjust="spacing">Schulze, Katharina</tspan><tspan class="d" dy="-0.3"> . . . . . . . . . . . . . . . . . . . . . . . . . . . . . . . . . . . . . . . . . . . . . . . . . . . . . . . . . . . . . . . . . . . . . . . . . . . . . . . .</tspan></text></g>
<text transform="translate(355.60 693.87) rotate(0.03) scale(1.039 1)">GRÜNE</text>
<text transform="translate(558.00 693.87) rotate(0.03) scale(1.039 1)" text-anchor="end">47.807</text>
<text transform="translate(610.10 693.87) rotate(0.03) scale(1.07 1)" text-anchor="end" class="i">34,1</text>
<text transform="translate(652.70 693.87) rotate(0.03) scale(1.07 1)" text-anchor="end" class="i">34,4</text>
<text transform="translate(726.40 693.87) rotate(0.03) scale(1.039 1)" text-anchor="end">-5.349</text>
<text transform="translate(784.40 693.87) rotate(0.03) scale(1.07 1)" text-anchor="end" class="i">-0,3</text>
<g clip-path="url(#c352)"><text transform="translate(73.00 708.74) rotate(0.03) scale(1.039 1)" xml:space="preserve"><tspan textLength="35.90" lengthAdjust="spacing">Utz, Pia</tspan><tspan class="d" dy="-0.3"> . . . . . . . . . . . . . . . . . . . . . . . . . . . . . . . . . . . . . . . . . . . . . . . . . . . . . . . . . . . . . . . . . . . . . . . . . . . . . . . .</tspan></text></g>
<text transform="translate(355.60 708.74) rotate(0.03) scale(1.039 1)">FREIE WÄHLER</text>
<text transform="translate(558.00 708.74) rotate(0.03) scale(1.039 1)" text-anchor="end">9.039</text>
<text transform="translate(610.10 708.74) rotate(0.03) scale(1.07 1)" text-anchor="end" class="i">6,5</text>
<text transform="translate(652.70 708.74) rotate(0.03) scale(1.07 1)" text-anchor="end" class="i">5,6</text>
<text transform="translate(726.40 708.74) rotate(0.03) scale(1.039 1)" text-anchor="end">+418</text>
<text transform="translate(784.40 708.74) rotate(0.03) scale(1.07 1)" text-anchor="end" class="i">+0,9</text>
<g clip-path="url(#c352)"><text transform="translate(73.00 723.61) rotate(0.03) scale(1.039 1)" xml:space="preserve"><tspan textLength="69.59" lengthAdjust="spacing">Machyan, Jitka</tspan><tspan class="d" dy="-0.3"> . . . . . . . . . . . . . . . . . . . . . . . . . . . . . . . . . . . . . . . . . . . . . . . . . . . . . . . . . . . . . . . . . . . . . . . . . . . . . . . .</tspan></text></g>
<text transform="translate(355.60 723.61) rotate(0.03) scale(1.039 1)">AfD</text>
<text transform="translate(558.00 723.61) rotate(0.03) scale(1.039 1)" text-anchor="end">8.853</text>
<text transform="translate(610.10 723.61) rotate(0.03) scale(1.07 1)" text-anchor="end" class="i">6,3</text>
<text transform="translate(652.70 723.61) rotate(0.03) scale(1.07 1)" text-anchor="end" class="i">6,0</text>
<text transform="translate(726.40 723.61) rotate(0.03) scale(1.039 1)" text-anchor="end">-476</text>
<text transform="translate(784.40 723.61) rotate(0.03) scale(1.07 1)" text-anchor="end" class="i">+0,3</text>
<g clip-path="url(#c352)"><text transform="translate(73.00 738.48) rotate(0.03) scale(1.039 1)" xml:space="preserve"><tspan textLength="76.32" lengthAdjust="spacing">Waldmann, Ruth</tspan><tspan class="d" dy="-0.3"> . . . . . . . . . . . . . . . . . . . . . . . . . . . . . . . . . . . . . . . . . . . . . . . . . . . . . . . . . . . . . . . . . . . . . . . . . . . . . . . .</tspan></text></g>
<text transform="translate(355.60 738.48) rotate(0.03) scale(1.039 1)">SPD</text>
<text transform="translate(558.00 738.48) rotate(0.03) scale(1.039 1)" text-anchor="end">18.595</text>
<text transform="translate(610.10 738.48) rotate(0.03) scale(1.07 1)" text-anchor="end" class="i">13,3</text>
<text transform="translate(652.70 738.48) rotate(0.03) scale(1.07 1)" text-anchor="end" class="i">14,0</text>
<text transform="translate(726.40 738.48) rotate(0.03) scale(1.039 1)" text-anchor="end">-3.004</text>
<text transform="translate(784.40 738.48) rotate(0.03) scale(1.07 1)" text-anchor="end" class="i">-0,7</text>
<g clip-path="url(#c352)"><text transform="translate(73.00 753.35) rotate(0.03) scale(1.039 1)" xml:space="preserve"><tspan textLength="108.57" lengthAdjust="spacing">Kaiser-Steiner, Jennifer</tspan><tspan class="d" dy="-0.3"> . . . . . . . . . . . . . . . . . . . . . . . . . . . . . . . . . . . . . . . . . . . . . . . . . . . . . . . . . . . . . . . . . . . . . . . . . . . . . . . .</tspan></text></g>
<text transform="translate(355.60 753.35) rotate(0.03) scale(1.039 1)">FDP</text>
<text transform="translate(558.00 753.35) rotate(0.03) scale(1.039 1)" text-anchor="end">9.414</text>
<text transform="translate(610.10 753.35) rotate(0.03) scale(1.07 1)" text-anchor="end" class="i">6,7</text>
<text transform="translate(652.70 753.35) rotate(0.03) scale(1.07 1)" text-anchor="end" class="i">9,0</text>
<text transform="translate(726.40 753.35) rotate(0.03) scale(1.039 1)" text-anchor="end">-4.428</text>
<text transform="translate(784.40 753.35) rotate(0.03) scale(1.07 1)" text-anchor="end" class="i">-2,2</text>
<g clip-path="url(#c352)"><text transform="translate(73.00 768.22) rotate(0.03) scale(1.039 1)" xml:space="preserve"><tspan textLength="79.69" lengthAdjust="spacing">Glauch, Dr. Theo</tspan><tspan class="d" dy="-0.3"> . . . . . . . . . . . . . . . . . . . . . . . . . . . . . . . . . . . . . . . . . . . . . . . . . . . . . . . . . . . . . . . . . . . . . . . . . . . . . . . .</tspan></text></g>
<text transform="translate(355.60 768.22) rotate(0.03) scale(1.039 1)">DIE LIN<tspan dx="1.3">KE</tspan></text>
<text transform="translate(558.00 768.22) rotate(0.03) scale(1.039 1)" text-anchor="end">3.584</text>
<text transform="translate(610.10 768.22) rotate(0.03) scale(1.07 1)" text-anchor="end" class="i">2,6</text>
<text transform="translate(652.70 768.22) rotate(0.03) scale(1.07 1)" text-anchor="end" class="i">5,1</text>
<text transform="translate(726.40 768.22) rotate(0.03) scale(1.039 1)" text-anchor="end">-4.286</text>
<text transform="translate(784.40 768.22) rotate(0.03) scale(1.07 1)" text-anchor="end" class="i">-2,5</text>
<g clip-path="url(#c352)"><text transform="translate(73.00 783.09) rotate(0.03) scale(1.039 1)" xml:space="preserve"><tspan textLength="70.55" lengthAdjust="spacing">Settele, Angela</tspan><tspan class="d" dy="-0.3"> . . . . . . . . . . . . . . . . . . . . . . . . . . . . . . . . . . . . . . . . . . . . . . . . . . . . . . . . . . . . . . . . . . . . . . . . . . . . . . . .</tspan></text></g>
<text transform="translate(355.60 783.09) rotate(0.03) scale(1.039 1)">BP</text>
<text transform="translate(558.00 783.09) rotate(0.03) scale(1.039 1)" text-anchor="end">601</text>
<text transform="translate(610.10 783.09) rotate(0.03) scale(1.07 1)" text-anchor="end" class="i">0,4</text>
<text transform="translate(652.70 783.09) rotate(0.03) scale(1.07 1)" text-anchor="end" class="i">0,8</text>
<text transform="translate(726.40 783.09) rotate(0.03) scale(1.039 1)" text-anchor="end">-574</text>
<text transform="translate(784.40 783.09) rotate(0.03) scale(1.07 1)" text-anchor="end" class="i">-0,3</text>
<g clip-path="url(#c352)"><text transform="translate(73.00 797.96) rotate(0.03) scale(1.039 1)" xml:space="preserve"><tspan textLength="74.88" lengthAdjust="spacing">Berndl, Andreas</tspan><tspan class="d" dy="-0.3"> . . . . . . . . . . . . . . . . . . . . . . . . . . . . . . . . . . . . . . . . . . . . . . . . . . . . . . . . . . . . . . . . . . . . . . . . . . . . . . . .</tspan></text></g>
<text transform="translate(355.60 797.96) rotate(0.03) scale(1.039 1)">ÖDP</text>
<text transform="translate(558.00 797.96) rotate(0.03) scale(1.039 1)" text-anchor="end">2.074</text>
<text transform="translate(610.10 797.96) rotate(0.03) scale(1.07 1)" text-anchor="end" class="i">1,5</text>
<text transform="translate(652.70 797.96) rotate(0.03) scale(1.07 1)" text-anchor="end" class="i">1,5</text>
<text transform="translate(726.40 797.96) rotate(0.03) scale(1.039 1)" text-anchor="end">-228</text>
<text transform="translate(784.40 797.96) rotate(0.03) scale(1.07 1)" text-anchor="end" class="i">-0,0</text>
<g clip-path="url(#c352)"><text transform="translate(73.00 812.83) rotate(0.03) scale(1.039 1)" xml:space="preserve"><tspan textLength="90.28" lengthAdjust="spacing">Fiddicke, Sebastian</tspan><tspan class="d" dy="-0.3"> . . . . . . . . . . . . . . . . . . . . . . . . . . . . . . . . . . . . . . . . . . . . . . . . . . . . . . . . . . . . . . . . . . . . . . . . . . . . . . . .</tspan></text></g>
<text transform="translate(355.60 812.83) rotate(0.03) scale(1.039 1)">Die PARTEI</text>
<text transform="translate(558.00 812.83) rotate(0.03) scale(1.039 1)" text-anchor="end">1.664</text>
<text transform="translate(610.10 812.83) rotate(0.03) scale(1.07 1)" text-anchor="end" class="i">1,2</text>
<text transform="translate(652.70 812.83) rotate(0.03) scale(1.07 1)" text-anchor="end" class="i">0,6</text>
<text transform="translate(726.40 812.83) rotate(0.03) scale(1.039 1)" text-anchor="end">+762</text>
<text transform="translate(784.40 812.83) rotate(0.03) scale(1.07 1)" text-anchor="end" class="i">+0,6</text>
<g clip-path="url(#c352)"><text transform="translate(73.00 827.70) rotate(0.03) scale(1.039 1)" xml:space="preserve"><tspan textLength="99.90" lengthAdjust="spacing">Kreidemeier, Thomas</tspan><tspan class="d" dy="-0.3"> . . . . . . . . . . . . . . . . . . . . . . . . . . . . . . . . . . . . . . . . . . . . . . . . . . . . . . . . . . . . . . . . . . . . . . . . . . . . . . . .</tspan></text></g>
<text transform="translate(355.60 827.70) rotate(0.03) scale(1.039 1)">Tierschutz<tspan dx="0.7">partei</tspan></text>
<text transform="translate(558.00 827.70) rotate(0.03) scale(1.039 1)" text-anchor="end">1.530</text>
<text transform="translate(610.10 827.70) rotate(0.03) scale(1.07 1)" text-anchor="end" class="i">1,1</text>
<text transform="translate(652.70 827.70) rotate(0.03) scale(1.07 1)" text-anchor="end" class="i">0,8</text>
<text transform="translate(726.40 827.70) rotate(0.03) scale(1.039 1)" text-anchor="end">+297</text>
<text transform="translate(784.40 827.70) rotate(0.03) scale(1.07 1)" text-anchor="end" class="i">+0,3</text>
<text transform="translate(73.00 842.57) rotate(0.03) scale(1.039 1)" class="hb">-</text>
<text transform="translate(355.60 842.57) rotate(0.03) scale(1.039 1)">V-Partei<tspan dy="-2.9" dx="0.5" font-size="6.3" style="stroke-width:0.05px">3</tspan></text>
<text transform="translate(558.00 842.57) rotate(0.03) scale(1.039 1)" text-anchor="end">163</text>
<text transform="translate(610.10 842.57) rotate(0.03) scale(1.07 1)" text-anchor="end" class="i">0,1</text>
<text transform="translate(652.70 842.57) rotate(0.03) scale(1.07 1)" text-anchor="end" class="i">0,2</text>
<text transform="translate(726.40 842.57) rotate(0.03) scale(1.039 1)" text-anchor="end">-125</text>
<text transform="translate(784.40 842.57) rotate(0.03) scale(1.07 1)" text-anchor="end" class="i">-0,1</text>
<text transform="translate(73.00 857.44) rotate(0.03) scale(1.039 1)" class="hb">-</text>
<text transform="translate(355.60 857.44) rotate(0.03) scale(1.039 1)">PdH</text>
<text transform="translate(558.00 857.44) rotate(0.03) scale(1.039 1)" text-anchor="end">305</text>
<text transform="translate(610.10 857.44) rotate(0.03) scale(1.07 1)" text-anchor="end" class="i">0,2</text>
<text transform="translate(652.70 857.44) rotate(0.03) scale(1.07 1)" text-anchor="end" class="i">0,1</text>
<text transform="translate(726.40 857.44) rotate(0.03) scale(1.039 1)" text-anchor="end">+165</text>
<text transform="translate(784.40 857.44) rotate(0.03) scale(1.07 1)" text-anchor="end" class="i">+0,1</text>
<text transform="translate(73.00 872.31) rotate(0.03) scale(1.039 1)" class="hb">-</text>
<text transform="translate(355.60 872.31) rotate(0.03) scale(1.039 1)">dieBasis</text>
<text transform="translate(558.00 872.31) rotate(0.03) scale(1.039 1)" text-anchor="end">444</text>
<text transform="translate(610.10 872.31) rotate(0.03) scale(1.07 1)" text-anchor="end" class="i">0,3</text>
<text transform="translate(651.50 872.31) rotate(0.03) scale(1.07 1)" text-anchor="end" class="i">.</text>
<text transform="translate(726.40 872.31) rotate(0.03) scale(1.039 1)" text-anchor="end">[+444]</text>
<text transform="translate(784.40 872.31) rotate(0.03) scale(1.07 1)" text-anchor="end" class="i">[+0,3]</text>
<g clip-path="url(#c352)"><text transform="translate(73.00 887.18) rotate(0.03) scale(1.039 1)" xml:space="preserve"><tspan textLength="62.37" lengthAdjust="spacing">Raabe, Maria</tspan><tspan class="d" dy="-0.3"> . . . . . . . . . . . . . . . . . . . . . . . . . . . . . . . . . . . . . . . . . . . . . . . . . . . . . . . . . . . . . . . . . . . . . . . . . . . . . . . .</tspan></text></g>
<text transform="translate(355.60 887.18) rotate(0.03) scale(1.039 1)">Volt</text>
<text transform="translate(558.00 887.18) rotate(0.03) scale(1.039 1)" text-anchor="end">2.201</text>
<text transform="translate(610.10 887.18) rotate(0.03) scale(1.07 1)" text-anchor="end" class="i">1,6</text>
<text transform="translate(651.50 887.18) rotate(0.03) scale(1.07 1)" text-anchor="end" class="i">.</text>
<text transform="translate(726.40 887.18) rotate(0.03) scale(1.039 1)" text-anchor="end">[+2.201]</text>
<text transform="translate(784.40 887.18) rotate(0.03) scale(1.07 1)" text-anchor="end" class="i">[+1,6]</text>
<text transform="translate(73.00 902.05) rotate(0.03) scale(1.039 1)" class="hb">-</text>
<text transform="translate(355.60 902.05) rotate(0.03) scale(1.039 1)">Sonstige 2018</text>
<text transform="translate(558.00 902.05) rotate(0.03) scale(1.039 1)" text-anchor="end">X</text>
<text transform="translate(608.90 902.05) rotate(0.03) scale(1.07 1)" text-anchor="end" class="i">.</text>
<text transform="translate(652.70 902.05) rotate(0.03) scale(1.07 1)" text-anchor="end" class="i">1,1</text>
<text transform="translate(726.40 902.05) rotate(0.03) scale(1.039 1)" text-anchor="end">[-1.696]</text>
<text transform="translate(784.40 902.05) rotate(0.03) scale(1.07 1)" text-anchor="end" class="i">[-1,1]</text>
<text transform="translate(356.00 925.40) rotate(0.03) scale(1.039 1)">Stimm<tspan dx="1.3">en:</tspan></text>
<text transform="translate(369.50 940.30) rotate(0.03) scale(1.039 1)">gültig</text>
<text transform="translate(558.00 940.30) rotate(0.03) scale(1.039 1)" text-anchor="end">140.088</text>
<text transform="translate(610.10 940.30) rotate(0.03) scale(1.07 1)" text-anchor="end" class="i">100</text>
<text transform="translate(652.70 940.30) rotate(0.03) scale(1.07 1)" text-anchor="end" class="i">100</text>
<text transform="translate(726.40 940.30) rotate(0.03) scale(1.039 1)" text-anchor="end">-14.375</text>
<text transform="translate(781.90 940.30) rotate(0.03) scale(1.07 1)" text-anchor="end" class="i">.</text>
<text transform="translate(369.50 954.80) rotate(0.03) scale(1.039 1)">ungültig</text>
<text transform="translate(558.00 954.80) rotate(0.03) scale(1.039 1)" text-anchor="end">1.721</text>
<text transform="translate(610.10 954.80) rotate(0.03) scale(1.07 1)" text-anchor="end" class="i">1,2</text>
<text transform="translate(652.70 954.80) rotate(0.03) scale(1.07 1)" text-anchor="end" class="i">0,8</text>
<text transform="translate(726.40 954.80) rotate(0.03) scale(1.039 1)" text-anchor="end">+530</text>
<text transform="translate(784.40 954.80) rotate(0.03) scale(1.07 1)" text-anchor="end" class="i">+0,4</text>
<text transform="translate(369.50 969.30) rotate(0.03) scale(1.039 1)">abgegeben</text>
<text transform="translate(558.00 969.30) rotate(0.03) scale(1.039 1)" text-anchor="end">141.809</text>
<text transform="translate(608.90 969.30) rotate(0.03) scale(1.07 1)" text-anchor="end" class="i">.</text>
<text transform="translate(651.50 969.30) rotate(0.03) scale(1.07 1)" text-anchor="end" class="i">.</text>
<text transform="translate(726.40 969.30) rotate(0.03) scale(1.039 1)" text-anchor="end">-13.845</text>
<text transform="translate(781.90 969.30) rotate(0.03) scale(1.07 1)" text-anchor="end" class="i">.</text>
<text transform="translate(58.90 1085.20) rotate(0.03) scale(1.039 1)">* gewählt</text>
<text transform="translate(60.70 1158.60) rotate(0.03) scale(1 1)" class="u" font-size="13.2" textLength="68.5" lengthAdjust="spacing">Statistische</text>
<text transform="translate(134.30 1158.60) rotate(0.03) scale(1 1)" class="u" font-size="13.2" textLength="47.7" lengthAdjust="spacing">Berichte</text>
<text transform="translate(190.20 1158.60) rotate(0.03) scale(1 1)" text-anchor="middle" class="u" font-size="13.2">–</text>
<text transform="translate(197.60 1158.60) rotate(0.03) scale(1 1)" class="u" font-size="13.2" textLength="44.5" lengthAdjust="spacing">B72303</text>
<text transform="translate(246.50 1158.60) rotate(0.03) scale(1 1)" class="u" font-size="13.2" textLength="36.6" lengthAdjust="spacing">20235</text>
<text transform="translate(290.55 1158.60) rotate(0.03) scale(1 1)" text-anchor="middle" class="u" font-size="13.2">–</text>
<text transform="translate(423.80 1156.10) rotate(0.03) scale(1 1)" text-anchor="middle" class="u" font-size="13.2">16</text>
<text transform="translate(662.50 1143.60) rotate(0.03) scale(1 1)" class="u" font-size="13.2" textLength="20.3" lengthAdjust="spacing">Der</text>
<text transform="translate(686.90 1143.60) rotate(0.03) scale(1 1)" class="u" font-size="13.2" textLength="100.4" lengthAdjust="spacing">Landeswahlleiter</text>
<text transform="translate(653.40 1157.70) rotate(0.03) scale(1 1)" class="u" font-size="13.2" textLength="19.5" lengthAdjust="spacing">des</text>
<text transform="translate(677.40 1157.70) rotate(0.03) scale(1 1)" class="u" font-size="13.2" textLength="64.8" lengthAdjust="spacing">Freistaates</text>
<text transform="translate(746.70 1157.70) rotate(0.03) scale(1 1)" class="u" font-size="13.2" textLength="40.6" lengthAdjust="spacing">Bayern</text>
</g>
</svg>
</body></html>
